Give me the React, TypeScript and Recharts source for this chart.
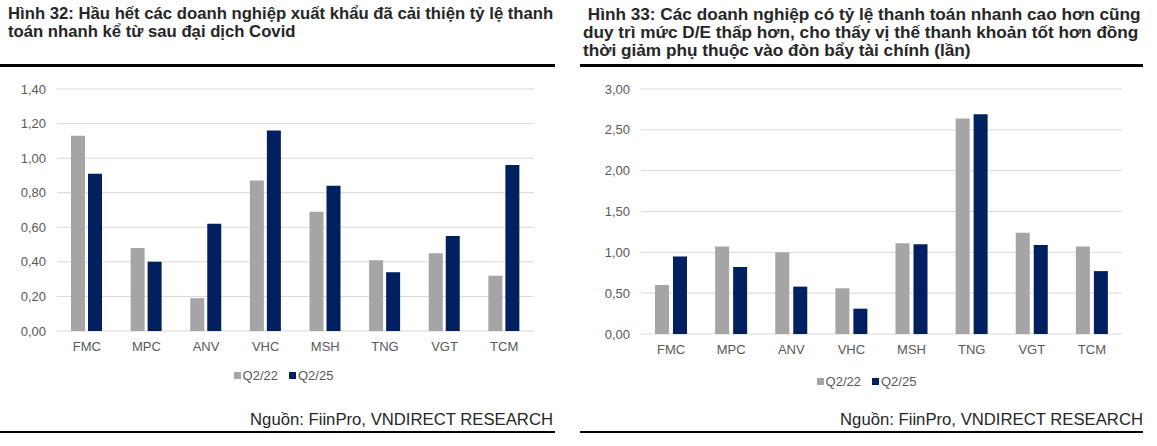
import React from 'react'
import { BarChart, Bar, XAxis, YAxis, CartesianGrid, Legend } from 'recharts'

const categories = ['FMC', 'MPC', 'ANV', 'VHC', 'MSH', 'TNG', 'VGT', 'TCM']

// Hình 32: tỷ lệ thanh toán nhanh
const quickQ222 = [1.13, 0.48, 0.19, 0.87, 0.69, 0.41, 0.45, 0.32]
const quickQ225 = [0.91, 0.4, 0.62, 1.16, 0.84, 0.34, 0.55, 0.96]
const quickTicks = [0, 0.2, 0.4, 0.6, 0.8, 1.0, 1.2, 1.4]

// Hình 33: D/E
const deQ222 = [0.6, 1.07, 1.0, 0.56, 1.11, 2.64, 1.24, 1.07]
const deQ225 = [0.95, 0.82, 0.58, 0.31, 1.1, 2.69, 1.09, 0.77]
const deTicks = [0, 0.5, 1.0, 1.5, 2.0, 2.5, 3.0]

const seriesNames = ['Q2/22', 'Q2/25']

const GRAY = '#a5a5a5'
const NAVY = '#002060'
const FONT = '"Liberation Sans", Arial, sans-serif'
const AXIS_TEXT = '#595959'

const quickData = categories.map((name, i) => ({ name, q222: quickQ222[i], q225: quickQ225[i] }))
const deData = categories.map((name, i) => ({ name, q222: deQ222[i], q225: deQ225[i] }))

const fmt = (v: number) => v.toFixed(2).replace('.', ',')

function LegendContent({ width, shift }: { width: number; shift: number }) {
  const items = [
    { label: seriesNames[0], color: GRAY },
    { label: seriesNames[1], color: NAVY },
  ]
  return (
    <div
      style={{
        width,
        height: 20,
        display: 'flex',
        justifyContent: 'center',
        alignItems: 'center',
        paddingLeft: shift,
        boxSizing: 'border-box',
        fontFamily: FONT,
        fontSize: 13,
        color: AXIS_TEXT,
      }}
    >
      {items.map((it, i) => (
        <span key={it.label} style={{ display: 'flex', alignItems: 'center', marginLeft: i ? 11 : 0 }}>
          <span style={{ width: 7, height: 7, background: it.color, marginRight: 2 }} />
          {it.label}
        </span>
      ))}
    </div>
  )
}

interface PanelChartProps {
  data: Array<{ name: string; q222: number; q225: number }>
  ticks: number[]
  width: number
  height: number
  yWidth: number
  xHeight: number
  top: number
  legendShift: number
  barSize: number
  barGap: number
}

function PanelChart(p: PanelChartProps) {
  return (
    <BarChart
      width={p.width}
      height={p.height}
      data={p.data}
      margin={{ top: p.top, right: 21, left: 0, bottom: 5 }}
      barSize={p.barSize}
      barGap={p.barGap}
    >
      <CartesianGrid vertical={false} stroke="#d9d9d9" />
      <XAxis
        dataKey="name"
        height={p.xHeight}
        axisLine={false}
        tickLine={false}
        tickSize={0}
        tickMargin={11}
        interval={0}
        tick={{ fontSize: 13, fill: AXIS_TEXT, fontFamily: FONT }}
      />
      <YAxis
        width={p.yWidth}
        domain={[p.ticks[0], p.ticks[p.ticks.length - 1]]}
        ticks={p.ticks}
        axisLine={false}
        tickLine={false}
        tickSize={0}
        tickMargin={11}
        tickFormatter={fmt}
        tick={{ fontSize: 13, fill: AXIS_TEXT, fontFamily: FONT }}
      />
      <Legend
        verticalAlign="bottom"
        height={20}
        content={() => <LegendContent width={p.width} shift={p.legendShift} />}
      />
      <Bar dataKey="q222" name={seriesNames[0]} fill={GRAY} isAnimationActive={false} />
      <Bar dataKey="q225" name={seriesNames[1]} fill={NAVY} isAnimationActive={false} />
    </BarChart>
  )
}

const titleStyle: React.CSSProperties = {
  position: 'absolute',
  top: 5,
  fontFamily: FONT,
  fontWeight: 'bold',
  lineHeight: '18px',
  color: '#262626',
  whiteSpace: 'nowrap',
}

const sourceStyle: React.CSSProperties = {
  position: 'absolute',
  top: 410,
  fontFamily: FONT,
  fontSize: 16.7,
  color: '#262626',
  textAlign: 'right',
  whiteSpace: 'nowrap',
}

export default function App() {
  return (
    <div style={{ position: 'absolute', left: 0, top: 0, width: 1157, height: 446, background: '#fff' }}>
      {/* left panel */}
      <div style={{ ...titleStyle, left: 8, fontSize: 16.7 }}>
        Hình 32: Hầu hết các doanh nghiệp xuất khẩu đã cải thiện tỷ lệ thanh
        <br />
        toán nhanh kể từ sau đại dịch Covid
      </div>
      <div style={{ position: 'absolute', left: 0, top: 64, width: 555, height: 3, background: '#000' }} />
      <div style={{ position: 'absolute', left: 0, top: 80 }}>
        <PanelChart
          data={quickData}
          ticks={quickTicks}
          width={555}
          height={310}
          yWidth={57}
          xHeight={34}
          top={9}
          legendShift={12}
          barSize={14}
          barGap={3}
        />
      </div>
      <div style={{ ...sourceStyle, left: 0, width: 553 }}>Nguồn: FiinPro, VNDIRECT RESEARCH</div>
      <div style={{ position: 'absolute', left: 0, top: 431, width: 555, height: 2, background: '#000' }} />

      {/* right panel */}
      <div style={{ ...titleStyle, left: 583, fontSize: 17.2 }}>
        {'\u00a0'}Hình 33: Các doanh nghiệp có tỷ lệ thanh toán nhanh cao hơn cũng
        <br />
        duy trì mức D/E thấp hơn, cho thấy vị thế thanh khoản tốt hơn đồng
        <br />
        thời giảm phụ thuộc vào đòn bẩy tài chính (lần)
      </div>
      <div style={{ position: 'absolute', left: 580, top: 64, width: 563, height: 3, background: '#000' }} />
      <div style={{ position: 'absolute', left: 578, top: 80 }}>
        <PanelChart
          data={deData}
          ticks={deTicks}
          width={565}
          height={316}
          yWidth={63}
          xHeight={37}
          top={9}
          legendShift={12}
          barSize={14}
          barGap={4}
        />
      </div>
      <div style={{ ...sourceStyle, left: 578, width: 565 }}>Nguồn: FiinPro, VNDIRECT RESEARCH</div>
      <div style={{ position: 'absolute', left: 580, top: 431, width: 563, height: 2, background: '#000' }} />
    </div>
  )
}
